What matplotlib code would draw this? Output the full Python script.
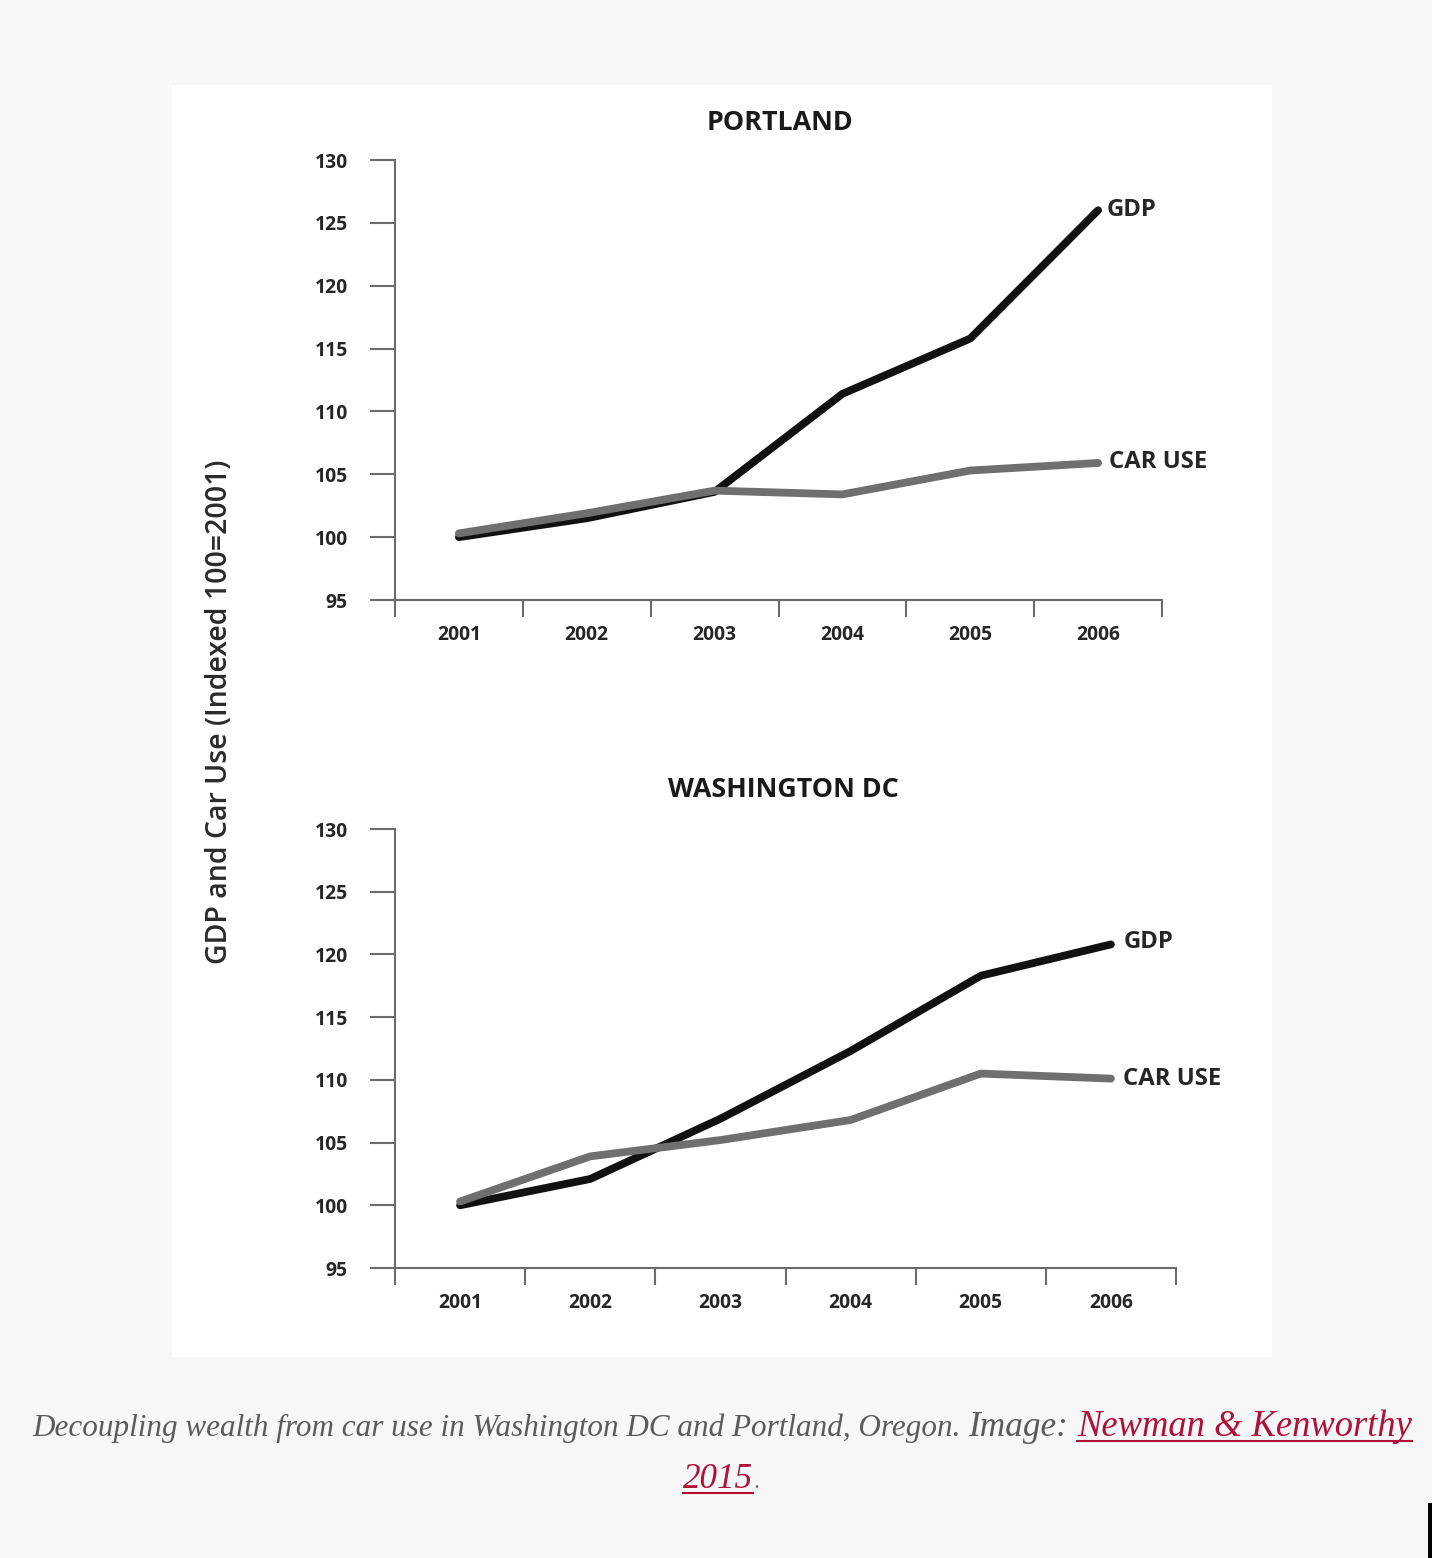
import matplotlib
matplotlib.use("Agg")
import matplotlib.pyplot as plt
from matplotlib import font_manager
from matplotlib.lines import Line2D
from matplotlib.patches import Rectangle
import numpy as np

YEARS = ["2001", "2002", "2003", "2004", "2005", "2006"]
Y_TICKS = [95, 100, 105, 110, 115, 120, 125, 130]

PORTLAND_GDP = [100.0, 101.5, 103.6, 111.4, 115.8, 126.0]
PORTLAND_CAR = [100.3, 101.9, 103.7, 103.4, 105.3, 105.9]
DC_GDP = [100.0, 102.1, 106.9, 112.3, 118.3, 120.8]
DC_CAR = [100.3, 103.9, 105.2, 106.8, 110.5, 110.1]

W, H = 1432, 1558
AXIS_C = "#6b6b6b"
TEXT_C = "#262626"
GDP_C = "#111111"
CAR_C = "#6f6f6f"

have = {f.name for f in font_manager.fontManager.ttflist}
CHART_FONT = ["Liberation Sans Narrow", "Open Sans", "DejaVu Sans"]
CHART_FONT = [f for f in CHART_FONT if f in have] or ["DejaVu Sans"]
SERIF = ["Liberation Serif", "DejaVu Serif"]

fig = plt.figure(figsize=(W / 100, H / 100), dpi=100)
fig.patch.set_facecolor("#f7f7f7")
fig.patches.append(Rectangle((172 / W, 1 - 1357 / H), 1100 / W, 1272 / H,
                             transform=fig.transFigure, fc="white", ec="none", zorder=-1))
fig.patches.append(Rectangle((1428 / W, 0), 4 / W, 55 / H,
                             transform=fig.transFigure, fc="black", ec="none", zorder=-1))
renderer = fig.canvas.get_renderer()


def fit_size(text, width_px, vertical=False, **kw):
    t = fig.text(0, 0, text, fontsize=20, rotation=90 if vertical else 0, **kw)
    bb = t.get_window_extent(renderer)
    t.remove()
    return 20 * width_px / (bb.height if vertical else bb.width)


tick_fs = fit_size("2001", 44, family=CHART_FONT, weight="bold")
label_fs = fit_size("GDP", 50, family=CHART_FONT, weight="bold")


def px_axes(x0, y0, x1, y1):
    return fig.add_axes([x0 / W, 1 - y1 / H, (x1 - x0) / W, (y1 - y0) / H])


def panel(ax, gdp, car, gdp_off, car_off):
    x = np.arange(len(YEARS))
    ax.plot(x, gdp, color=GDP_C, lw=5.6, solid_capstyle="round", solid_joinstyle="round",
            clip_on=False, zorder=3)
    ax.plot(x, car, color=CAR_C, lw=5.6, solid_capstyle="round", solid_joinstyle="round",
            clip_on=False, zorder=4)
    ax.set_xlim(-0.5, len(YEARS) - 0.5)
    ax.set_ylim(95, 130)
    ax.set_facecolor("none")
    for s in ("top", "right"):
        ax.spines[s].set_visible(False)
    for s in ("left", "bottom"):
        ax.spines[s].set_color(AXIS_C)
        ax.spines[s].set_linewidth(1.5)
    ax.set_yticks(Y_TICKS)
    ax.set_yticklabels([str(v) for v in Y_TICKS])
    ax.tick_params(axis="y", direction="out", length=18, width=1.5, color=AXIS_C,
                   pad=16, labelsize=tick_fs, labelcolor=TEXT_C)
    ax.set_xticks(np.arange(len(YEARS) + 1) - 0.5)
    ax.tick_params(axis="x", which="major", direction="out", length=12, width=1.5,
                   color=AXIS_C, labelbottom=False)
    ax.set_xticks(x, minor=True)
    ax.set_xticklabels(YEARS, minor=True)
    ax.tick_params(axis="x", which="minor", length=0, pad=18, labelsize=tick_fs,
                   labelcolor=TEXT_C)
    for lab in ax.get_xticklabels(minor=True) + ax.get_yticklabels():
        lab.set_family(CHART_FONT)
        lab.set_weight("bold")
    ax.annotate("GDP", xy=(x[-1], gdp[-1]), xytext=gdp_off, textcoords="offset points",
                ha="left", va="center", fontsize=label_fs, weight="bold",
                family=CHART_FONT, color=TEXT_C)
    ax.annotate("CAR USE", xy=(x[-1], car[-1]), xytext=car_off, textcoords="offset points",
                ha="left", va="center", fontsize=label_fs, weight="bold",
                family=CHART_FONT, color=TEXT_C)


ax1 = px_axes(395, 160, 1162, 600)
panel(ax1, PORTLAND_GDP, PORTLAND_CAR, (6, 0), (8, 1))
ax2 = px_axes(395, 829, 1176, 1268)
panel(ax2, DC_GDP, DC_CAR, (9, 2), (9, 0))

title_fs = fit_size("PORTLAND", 147, family=CHART_FONT, weight="bold")
fig.text(780 / W, 1 - 123 / H, "PORTLAND", ha="center", va="center", fontsize=title_fs,
         weight="bold", family=CHART_FONT, color="#1a1a1a")
fig.text(783 / W, 1 - 790 / H, "WASHINGTON DC", ha="center", va="center", fontsize=title_fs,
         weight="bold", family=CHART_FONT, color="#1a1a1a")

ylab = "GDP and Car Use (Indexed 100=2001)"
ylab_fs = fit_size(ylab, 505, vertical=True, family=["Open Sans", "DejaVu Sans"], weight="semibold")
fig.text(220 / W, 1 - 712 / H, ylab, rotation=90, ha="center", va="center", fontsize=ylab_fs,
         family=["Open Sans", "DejaVu Sans"], weight="semibold", color="#2a2a2a")

# caption below the picture
CAP_GRAY = "#5b5b5b"
CAP_RED = "#b0113a"


def caption_piece(text, x_px, y_px, width_px, color, underline=False):
    fs = fit_size(text, width_px, family=SERIF, style="italic")
    t = fig.text(x_px / W, 1 - y_px / H, text, ha="left", va="baseline", fontsize=fs,
                 family=SERIF, style="italic", color=color)
    if underline:
        bb = t.get_window_extent(renderer)
        yl = 1 - (y_px + 5) / H
        fig.add_artist(Line2D([bb.x0 / W, bb.x1 / W], [yl, yl], color=color, lw=1.5))
    return t


caption_piece("Decoupling wealth from car use in Washington DC and Portland, Oregon.",
              32, 1436, 928, CAP_GRAY)
caption_piece("Image:", 968, 1436, 100, CAP_GRAY)
caption_piece("Newman & Kenworthy", 1077, 1436, 335, CAP_RED, underline=True)
caption_piece("2015", 683, 1488, 70, CAP_RED, underline=True)
caption_piece(".", 754, 1488, 5, CAP_GRAY)

fig.savefig("out.png", dpi=100, facecolor=fig.get_facecolor())
